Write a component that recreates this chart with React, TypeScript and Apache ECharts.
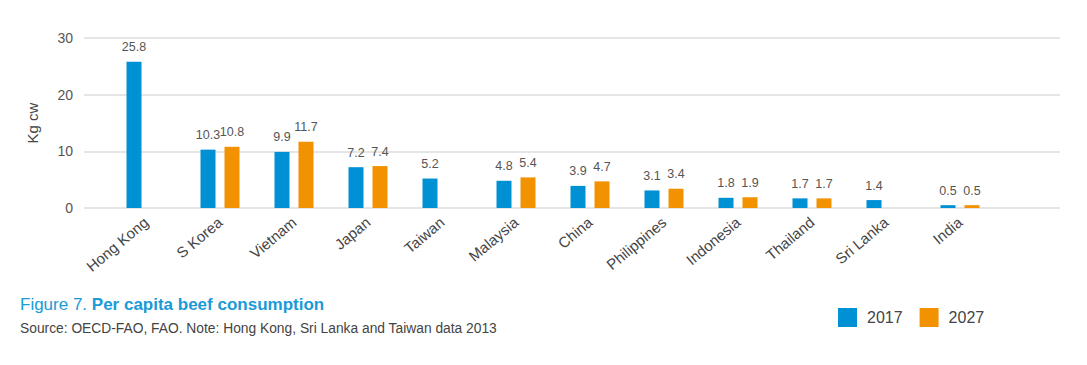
import React, { useEffect, useRef } from "react";
import * as echarts from "echarts";

const categories = ["Hong Kong", "S Korea", "Vietnam", "Japan", "Taiwan", "Malaysia", "China", "Philippines", "Indonesia", "Thailand", "Sri Lanka", "India"];
const values2017 = [25.8, 10.3, 9.9, 7.2, 5.2, 4.8, 3.9, 3.1, 1.8, 1.7, 1.4, 0.5];
const values2027 = [null, 10.8, 11.7, 7.4, null, 5.4, 4.7, 3.4, 1.9, 1.7, null, 0.5];
const yTicks = [0, 10, 20, 30];

const FONT = "'Liberation Sans', Arial, Helvetica, sans-serif";
const BLUE = "#0091d5";
const ORANGE = "#f39200";

export default function App() {
  const ref = useRef<HTMLDivElement>(null);
  useEffect(() => {
    if (!ref.current) return;
    const chart = echarts.init(ref.current, undefined, { renderer: "svg" });
    const valueLabel = {
      show: true,
      position: "top",
      distance: 8,
      fontSize: 12.5,
      color: "#555",
      fontFamily: FONT,
      formatter: (p: any) => String(p.value),
    };
    chart.setOption({
      animation: false,
      textStyle: { fontFamily: FONT },
      title: {
        left: 15,
        top: 291,
        text: "{a|Figure 7. }{b|Per capita beef consumption}",
        textStyle: {
          rich: {
            a: { fontSize: 17, color: "#1a9ad6", fontWeight: "normal", fontFamily: FONT },
            b: { fontSize: 17, color: "#1a9ad6", fontWeight: "bold", fontFamily: FONT },
          },
        },
        subtext: "Source: OECD-FAO, FAO. Note: Hong Kong, Sri Lanka and Taiwan data 2013",
        subtextStyle: { fontSize: 13.8, color: "#444", fontFamily: FONT },
        itemGap: 8,
      },
      legend: {
        left: 838,
        top: 308,
        padding: 0,
        itemWidth: 19,
        itemHeight: 19,
        itemGap: 17,
        icon: "rect",
        textStyle: { fontSize: 16, color: "#444", fontFamily: FONT, padding: [0, 0, 0, 5] },
        data: ["2017", "2027"],
      },
      grid: [
        { left: 84, right: 27, top: 38, bottom: 157 },
        { left: 109, right: 90, top: 38, bottom: 157 },
      ],
      xAxis: [
        { gridIndex: 0, type: "value", min: 0, max: 1, show: false },
        {
          gridIndex: 1,
          type: "category",
          data: categories,
          boundaryGap: true,
          axisLine: { show: false },
          axisTick: { show: false },
          axisLabel: {
            rotate: 40,
            fontSize: 15,
            color: "#444",
            fontFamily: FONT,
            margin: 12,
            interval: 0,
          },
        },
      ],
      yAxis: [
        {
          gridIndex: 0,
          type: "value",
          min: yTicks[0],
          max: yTicks[yTicks.length - 1],
          interval: 10,
          name: "Kg cw",
          nameLocation: "middle",
          nameGap: 44,
          nameTextStyle: { fontSize: 15, color: "#444", fontFamily: FONT },
          axisLine: { show: false },
          axisTick: { show: false },
          axisLabel: { fontSize: 14, color: "#555", margin: 11, fontFamily: FONT },
          splitLine: { lineStyle: { color: "#dcdcdc", width: 1.5 } },
        },
        {
          gridIndex: 1,
          type: "value",
          min: yTicks[0],
          max: yTicks[yTicks.length - 1],
          interval: 10,
          show: false,
          splitLine: { show: false },
        },
      ],
      series: [
        {
          name: "2017",
          type: "bar",
          xAxisIndex: 1,
          yAxisIndex: 1,
          data: values2017,
          barWidth: 15,
          barGap: "60%",
          itemStyle: { color: BLUE },
          label: valueLabel,
        },
        {
          name: "2027",
          type: "bar",
          xAxisIndex: 1,
          yAxisIndex: 1,
          data: values2027,
          barWidth: 15,
          barGap: "60%",
          itemStyle: { color: ORANGE },
          label: valueLabel,
        },
      ],
    });
    return () => chart.dispose();
  }, []);
  return <div ref={ref} style={{ width: 1087, height: 365, position: "absolute", left: 0, top: 0 }} />;
}
